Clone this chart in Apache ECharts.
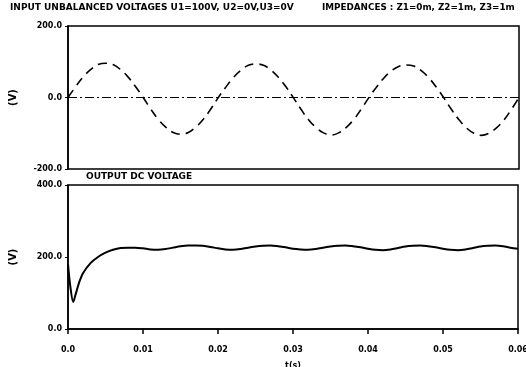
<!DOCTYPE html>
<html>
<head>
<meta charset="utf-8">
<script src="https://cdn.jsdelivr.net/npm/echarts@6/dist/echarts.min.js"></script>
<style>
  html, body { margin: 0; padding: 0; background: #fff; }
  #chart { width: 526px; height: 367px; }
</style>
</head>
<body>
<div id="chart"></div>
<script>
const inputTimeMs = [0,1,2,3,4,5,6,7,8,9,10,11,12,13,14,15,16,17,18,19,20,
  21,22,23,24,25,26,27,28,29,30,31,32,33,34,35,36,37,38,39,40,
  41,42,43,44,45,46,47,48,49,50,51,52,53,54,55,56,57,58,59,60];
const inputVoltage = [0,30,57,78,92,96,92,78,57,30,0,-32,-61,-83,-98,-103,-98,-83,-61,-32,
  0,29,56,76,90,94,90,77,56,30,-1,-33,-62,-84,-99,-105,-99,-84,-62,-33,
  -1,28,54,74,87,91,88,75,55,29,-1,-33,-62,-85,-100,-106,-100,-85,-63,-33,0];

// output dc voltage
const outputTimeMs = [0,0.3,0.7,1,1.5,2,3,4,5,6,7,8,9,10,11,12,13,14,15,16,17,18,19,20,
  21,22,23,24,25,26,27,28,29,30,31,32,33,34,35,36,37,38,39,40,
  41,42,43,44,45,46,47,48,49,50,51,52,53,54,55,56,57,58,59,60];
const outputVoltage = [180,120,75,95,130,155,183,200,212,220,225,226,226,224,221,220,222,226,230,232,232,231,228,224,
  221,220,222,226,229,231,232,230,227,223,221,220,222,226,229,231,232,230,227,223,
  220,219,221,225,229,231,232,230,227,223,220,219,221,225,229,231,232,230,226,223];

const timeTicks = ['0.0','0.01','0.02','0.03','0.04','0.05','0.06'];

const pairs = (ts, vs) => ts.map((t, i) => [t / 1000, vs[i]]);

const chart = echarts.init(document.getElementById('chart'));
const font = { fontFamily: 'DejaVu Sans', fontWeight: 'bold', color: '#000' };

const yAxisBase = {
  type: 'value',
  interval: 200,
  nameLocation: 'middle',
  nameGap: 50,
  nameRotate: 90,
  nameTextStyle: { ...font, fontSize: 10 },
  axisLine: { show: true, lineStyle: { color: '#000', width: 1.5 } },
  axisTick: { show: true, length: 3, lineStyle: { color: '#000' } },
  axisLabel: { ...font, fontSize: 8, margin: 6, formatter: v => v.toFixed(1) },
  splitLine: { show: false }
};

chart.setOption({
  animation: false,
  backgroundColor: '#fff',
  title: [
    { text: 'INPUT UNBALANCED VOLTAGES U1=100V, U2=0V,U3=0V', left: 10, top: 3, padding: 0,
      textStyle: { ...font, fontSize: 9 } },
    { text: 'IMPEDANCES : Z1=0m, Z2=1m, Z3=1m', left: 322, top: 3, padding: 0,
      textStyle: { ...font, fontSize: 8.8 } },
    { text: 'OUTPUT DC VOLTAGE', left: 86, top: 172, padding: 0,
      textStyle: { ...font, fontSize: 9 } }
  ],
  grid: [
    { left: 68, right: 7, top: 26, height: 143, outerBoundsMode: 'none',
      show: true, borderColor: '#000', borderWidth: 1.5 },
    { left: 68, right: 8, top: 185, height: 144, outerBoundsMode: 'none',
      show: true, borderColor: '#000', borderWidth: 1.5 }
  ],
  xAxis: [
    { gridIndex: 0, type: 'value', min: 0, max: 0.06, interval: 0.01,
      axisLine: { show: false }, axisTick: { show: false }, axisLabel: { show: false },
      splitLine: { show: false } },
    { gridIndex: 1, type: 'value', min: 0, max: 0.06, interval: 0.01,
      name: 't(s)', nameLocation: 'middle', nameGap: 33,
      nameTextStyle: { ...font, fontSize: 8 },
      axisLine: { show: true, lineStyle: { color: '#000', width: 1.5 } },
      axisTick: { show: true, length: 5, inside: false, lineStyle: { color: '#000', width: 1.5 } },
      axisLabel: { ...font, fontSize: 8, margin: 17,
        formatter: v => timeTicks[Math.round(v * 100)] },
      splitLine: { show: false } }
  ],
  yAxis: [
    { ...yAxisBase, gridIndex: 0, min: -200, max: 200, name: '(V)' },
    { ...yAxisBase, gridIndex: 1, min: 0, max: 400, name: '(V)' }
  ],
  series: [
    {
      type: 'line', xAxisIndex: 0, yAxisIndex: 0,
      data: pairs(inputTimeMs, inputVoltage),
      smooth: 0.4, showSymbol: false,
      lineStyle: { color: '#000', width: 1.6, type: [9, 6] },
      markLine: {
        silent: true, symbol: 'none', label: { show: false },
        lineStyle: { color: '#000', width: 1, type: [9, 3, 2, 3] },
        data: [{ yAxis: 0 }]
      }
    },
    {
      type: 'line', xAxisIndex: 1, yAxisIndex: 1,
      data: pairs(outputTimeMs, outputVoltage),
      smooth: 0.3, showSymbol: false,
      lineStyle: { color: '#000', width: 2 }
    }
  ]
});
</script>
</body>
</html>
